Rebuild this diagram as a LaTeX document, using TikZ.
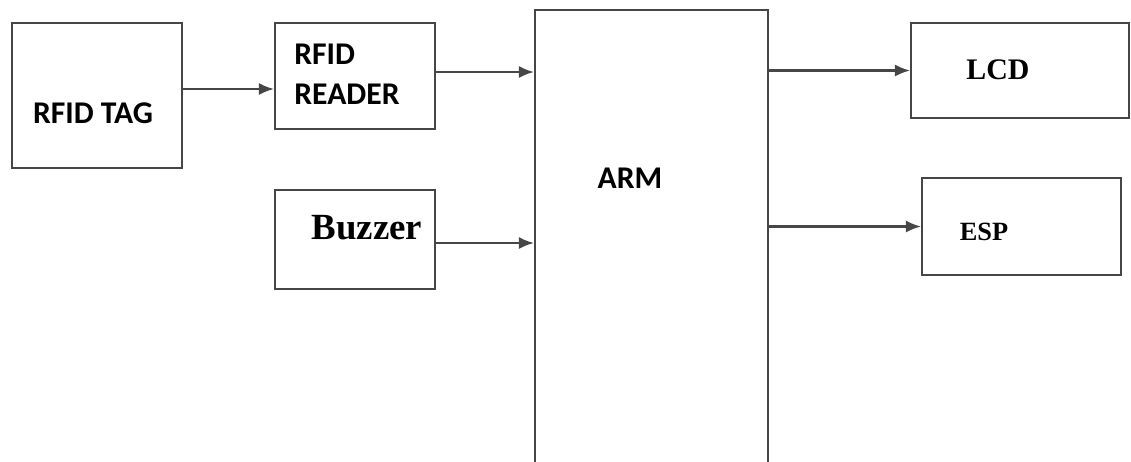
\documentclass[tikz,border=0pt]{standalone}
\usepackage{fontspec}
\setmainfont{Liberation Serif}
\newfontfamily\blocksans{Carlito}
\usepackage{xcolor}
\usetikzlibrary{arrows.meta,positioning}

\definecolor{edgegray}{RGB}{70,70,70}

\begin{document}
\begin{tikzpicture}[
  x=0.02cm, y=-0.02cm, >={Latex[length=3mm,width=2.4mm]},
  box/.style={draw=edgegray, line width=1.2pt, inner sep=0pt},
  sanslbl/.style={font=\blocksans\bfseries\fontsize{18}{22.8}\selectfont, inner sep=0pt},
  seriflbl/.style={font=\bfseries, inner sep=0pt},
  arr/.style={->, draw=edgegray, fill=edgegray, line width=1.2pt},
]
\useasboundingbox (0,0) rectangle (1131,461);
\clip (0,0) rectangle (1131,461);
% blocks
\node[box, minimum width=3.4cm, minimum height=2.9cm] (tag) at (97,95.5) {};
\node[box, minimum width=3.2cm, minimum height=2.12cm] (reader) at (355,76) {};
\node[box, minimum width=3.2cm, minimum height=1.98cm] (buzzer) at (355,239.5) {};
\node[box, minimum width=4.66cm, minimum height=9.6cm] (arm) at (651.5,250) {};
\node[box, minimum width=4.36cm, minimum height=1.9cm] (lcd) at (1020,70.5) {};
\node[box, minimum width=3.98cm, minimum height=1.94cm] (esp) at (1021.5,226.5) {};
% texts
\node[sanslbl] (tagtxt) at (93,113) {RFID TAG};
\node[sanslbl, align=left] (readertxt) at (347,74) {RFID\\READER};
\node[seriflbl, font=\bfseries\fontsize{21}{24}\selectfont] (buzzertxt) at (367,228) {Buzzer};
\node[sanslbl] (armtxt) at (630,178) {ARM};
\node[seriflbl, font=\bfseries\fontsize{17}{20}\selectfont] (lcdtxt) at (998,70) {LCD};
\node[seriflbl, font=\bfseries\fontsize{15}{18}\selectfont] (esptxt) at (984,232) {ESP};
% links
\draw[arr] ([yshift=0.13cm]tag.east) -- ([yshift=0.13cm]tag.east -| reader.west);
\draw[arr] ([yshift=0.08cm]reader.east) -- ([yshift=0.08cm]reader.east -| arm.west);
\draw[arr] ([yshift=-0.07cm]buzzer.east) -- ([yshift=-0.07cm]buzzer.east -| arm.west);
\draw[arr] (lcd.west -| arm.east) -- (lcd.west);
\draw[arr] (esp.west -| arm.east) -- (esp.west);
\end{tikzpicture}
\end{document}
